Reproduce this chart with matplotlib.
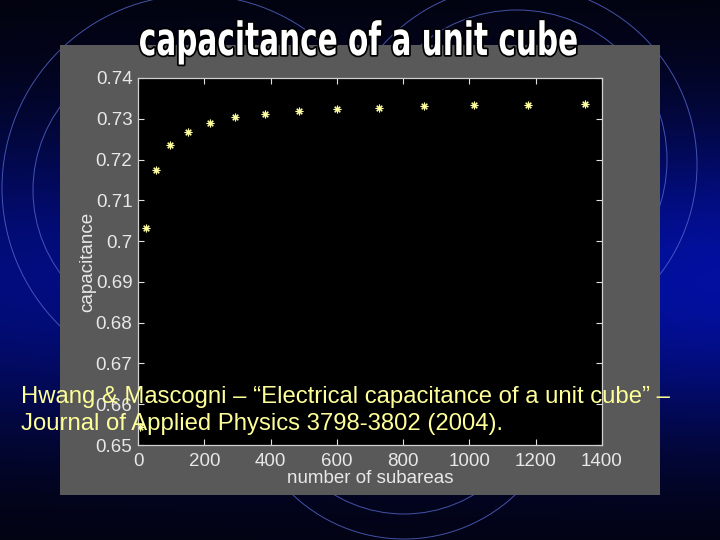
import numpy as np
import matplotlib
matplotlib.use("Agg")
import matplotlib.pyplot as plt
from matplotlib.patches import Circle, Rectangle
from matplotlib.ticker import FormatStrFormatter
from matplotlib.transforms import Affine2D
import matplotlib.patheffects as pe

# data
n_subareas = [6, 24, 54, 96, 150, 216, 294, 384, 486, 600, 726, 864, 1014, 1176, 1350]
capacitance = [0.6543, 0.7031, 0.7174, 0.7235, 0.7268, 0.7290, 0.7304, 0.7312,
               0.7319, 0.7324, 0.7327, 0.7331, 0.7333, 0.7335, 0.7337]
x_ticks = [0, 200, 400, 600, 800, 1000, 1200, 1400]
y_ticks = [0.65, 0.66, 0.67, 0.68, 0.69, 0.70, 0.71, 0.72, 0.73, 0.74]

title = "capacitance of a unit cube"
ref_line1 = "Hwang & Mascogni \u2013 \u201cElectrical capacitance of a unit cube\u201d \u2013"
ref_line2 = "Journal of Applied Physics 3798-3802 (2004)."

plt.rcParams["font.family"] = ["Liberation Sans", "DejaVu Sans"]


class Squeeze(pe.AbstractPathEffect):
    """squeeze glyphs horizontally around cx (display px), for a condensed look"""
    def __init__(self, inner, sx, cx):
        super().__init__()
        self.inner = inner
        self.sx = sx
        self.cx = cx

    def draw_path(self, renderer, gc, tpath, affine, rgbFace=None):
        aff = affine + Affine2D().translate(-self.cx, 0).scale(self.sx, 1).translate(self.cx, 0)
        self.inner.draw_path(renderer, gc, tpath, aff, rgbFace)


fig = plt.figure(figsize=(7.2, 5.4), dpi=100)

# slide background: dark blue gradient + thin circles
bg = fig.add_axes([0, 0, 1, 1], zorder=-2)
yy = np.linspace(0, 1, 270)[:, None]
xx = np.linspace(0, 1, 360)[None, :]
prof = np.exp(-((yy - 0.52) / 0.30) ** 2)
level = prof * (0.80 + 0.25 * xx)
img = np.zeros((270, 360, 3))
img[..., 0] = 0.01
img[..., 1] = 0.01 + 0.05 * level
img[..., 2] = 0.04 + 0.56 * level
bg.imshow(img, extent=[0, 720, 540, 0], aspect="auto", interpolation="bilinear")
for cx, cy, r in [(174, 190, 141), (195, 188, 193), (517, 160, 150),
                  (517, 165, 180), (404, 378, 136), (404, 377, 162)]:
    bg.add_patch(Circle((cx, cy), r, fill=False, ec="#5566cc", lw=0.7, alpha=0.8))
bg.add_patch(Rectangle((60, 45), 600, 450, fc="#595959", ec="none", zorder=5))
bg.set_xlim(0, 720)
bg.set_ylim(540, 0)
bg.axis("off")

# the matlab figure
ax = fig.add_axes([138 / 720, 1 - 445 / 540, 464 / 720, 367 / 540])
ax.set_facecolor("black")
ax.plot(n_subareas, capacitance, linestyle="none", marker=(8, 2, 0),
        markersize=5.5, mec="#ffffa0", mew=0.8, color="#ffffa0")
ax.set_xlim(0, 1400)
ax.set_ylim(0.65, 0.74)
ax.set_xticks(x_ticks)
ax.set_yticks(y_ticks)
ax.yaxis.set_major_formatter(FormatStrFormatter("%g"))
ax.xaxis.set_major_formatter(FormatStrFormatter("%g"))
ax.tick_params(axis="both", direction="in", length=4, width=0.8, color="#e0e0e0",
               labelcolor="#e8e8e8", labelsize=13.5, top=True, right=True)
ax.tick_params(axis="x", pad=6)
ax.tick_params(axis="y", pad=4)
for s in ax.spines.values():
    s.set_color("#d0d0d0")
    s.set_linewidth(0.9)
ax.set_xlabel("number of subareas", color="#e8e8e8", fontsize=13.5)
ax.set_ylabel("capacitance", color="#e8e8e8", fontsize=13.5, va="center")
ax.xaxis.set_label_coords(0.5, -0.068)
ax.yaxis.set_label_coords(-0.108, 0.5)

# slide title, heavy and narrow with a black outline
tx = 359
fig.text(tx / 720, 1 - 55 / 540, title, ha="center", va="baseline", color="white",
         fontsize=33, fontweight="bold", family="DejaVu Sans",
         path_effects=[Squeeze(pe.Stroke(linewidth=2.5, foreground="black"), 0.645, tx),
                       Squeeze(pe.Normal(), 0.645, tx)], zorder=10)

# reference overlay
fig.text(21 / 720, 1 - 403 / 540, ref_line1, ha="left", va="baseline",
         color="#ffff99", fontsize=17.2, zorder=10)
fig.text(21 / 720, 1 - 430 / 540, ref_line2, ha="left", va="baseline",
         color="#ffff99", fontsize=17.2, zorder=10)

plt.savefig("out.png", dpi=100)
